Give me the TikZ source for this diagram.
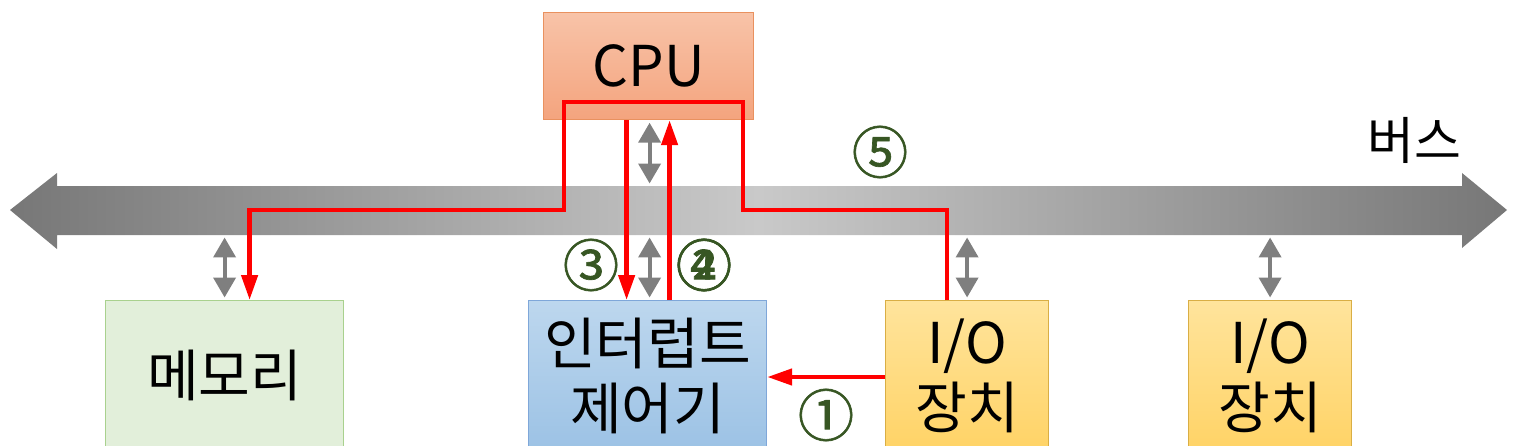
\documentclass[tikz,border=0pt]{standalone}
\usepackage{fontspec}
\setmainfont{Noto Sans CJK KR}
\newfontfamily\circnum[FakeBold=1.2]{Noto Sans CJK KR}
\usepackage{xcolor}
\usetikzlibrary{arrows.meta, calc}

\definecolor{cpuTop}{HTML}{F8C3A8}
\definecolor{cpuBot}{HTML}{F4A47E}
\definecolor{cpuLine}{HTML}{E9915F}
\definecolor{intTop}{HTML}{BDD7EE}
\definecolor{intBot}{HTML}{9CC2E5}
\definecolor{intLine}{HTML}{7FA7D9}
\definecolor{ioTop}{HTML}{FFE49C}
\definecolor{ioBot}{HTML}{FFD366}
\definecolor{ioLine}{HTML}{D9AE45}
\definecolor{memFill}{HTML}{E2EFDA}
\definecolor{memLine}{HTML}{A9D18E}
\definecolor{numGreen}{HTML}{375623}
\definecolor{busDark}{HTML}{777777}
\definecolor{busLight}{HTML}{C9C9C9}
\definecolor{linkGray}{HTML}{7F7F7F}

\begin{document}
\begin{tikzpicture}[
        x=0.02cm, y=-0.02cm,
        box/.style={rectangle, draw, line width=0.7pt, anchor=north west, align=center, minimum height=3cm, font=\fontsize{32}{37}\selectfont},
        link/.style={{Triangle[width=0.44cm,length=0.4cm]}-{Triangle[width=0.44cm,length=0.4cm]}, linkGray, line width=0.08cm, shorten <=0.05cm, shorten >=0.05cm},
        sig/.style={-{Triangle[width=0.32cm,length=0.5cm]}, red, line width=0.09cm},
        num/.style={text=numGreen, font=\circnum\fontsize{32}{34}\selectfont}
    ]
        \useasboundingbox (0,0) rectangle (1522,446);
        \clip (0,0) rectangle (1522,446);

        % bus
        \shade[left color=busDark, right color=busDark, middle color=busLight]
            (10,210) -- (57,173) -- (57,186) -- (1462,186) -- (1462,173) -- (1507,210)
            -- (1462,248) -- (1462,235) -- (57,235) -- (57,249) -- cycle;
        \coordinate (bt) at (0,186);
        \coordinate (bb) at (0,235);
        \coordinate (bc) at (0,210);
        \node[font=\fontsize{29}{30}\selectfont] (bus) at (1414,140) {버스};

        % units
        \node[box, top color=cpuTop, bottom color=cpuBot, draw=cpuLine, minimum width=4.2cm, minimum height=2.14cm] (cpu) at (543,12) {CPU};
        \node[box, fill=memFill, draw=memLine, minimum width=4.76cm] (mem) at (105,300) {메모리};
        \node[box, top color=intTop, bottom color=intBot, draw=intLine, minimum width=4.76cm] (int) at (528,300) {인터럽트\\제어기};
        \node[box, top color=ioTop, bottom color=ioBot, draw=ioLine, minimum width=3.26cm] (io1) at (885,300) {I/O\\장치};
        \node[box, top color=ioTop, bottom color=ioBot, draw=ioLine, minimum width=3.26cm] (io2) at (1188,300) {I/O\\장치};

        % bus links
        \draw[link] ([xshift=0.02cm]cpu.south) -- ([xshift=0.02cm]cpu.south |- bt);
        \draw[link] ([xshift=0.04cm]int.north |- bb) -- ([xshift=0.04cm]int.north);
        \draw[link] (mem.north |- bb) -- (mem.north);
        \draw[link] (io1.north |- bb) -- (io1.north);
        \draw[link] (io2.north |- bb) -- (io2.north);

        % interrupt sequence
        \draw[sig] (io1.west |- 0,377) -- (int.east |- 0,377);
        \draw[sig] ([xshift=0.44cm]int.north) -- ([xshift=0.44cm]int.north |- cpu.south);
        \draw[sig] ([xshift=-0.42cm]int.north |- cpu.south) -- ([xshift=-0.42cm]int.north);
        \draw[sig] ([xshift=-0.4cm]io1.north) |- (743,210) |- (564,102) |- ([xshift=0.5cm]mem.north |- bc) -- ([xshift=0.5cm]mem.north);

        \node[num] (n1) at (826,415) {①};
        \node[num] (n2) at (704,265) {②};
        \node[num] (n4) at (704,265) {④};
        \node[num] (n3) at (591,265) {③};
        \node[num] (n5) at (880,152) {⑤};
    \end{tikzpicture}
\end{document}
